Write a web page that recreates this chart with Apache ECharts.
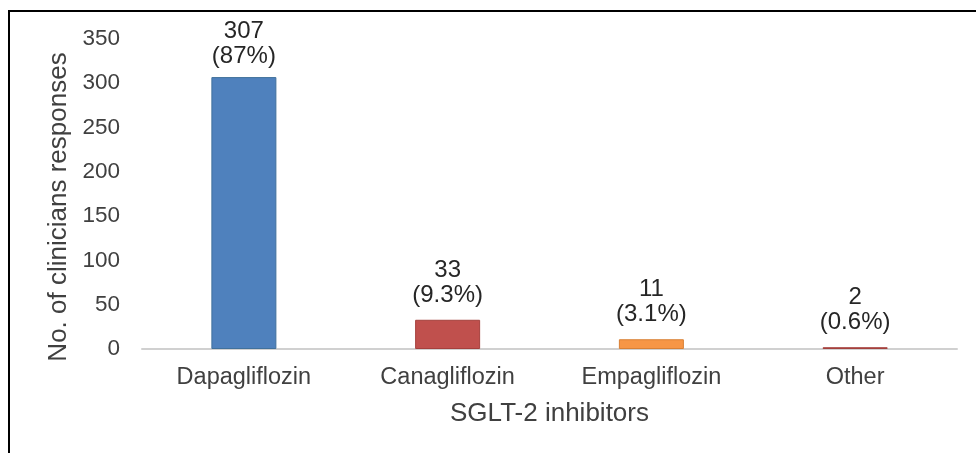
<!DOCTYPE html>
<html>
<head>
<meta charset="utf-8">
<script src="https://cdn.jsdelivr.net/npm/echarts@6/dist/echarts.min.js"></script>
<style>
html,body{margin:0;padding:0;background:#fff;}
#chart{width:976px;height:453px;}
</style>
</head>
<body>
<div id="chart"></div>
<script>
var categories = ['Dapagliflozin', 'Canagliflozin', 'Empagliflozin', 'Other'];
var counts = [307, 33, 11, 2];
var percents = ['87%', '9.3%', '3.1%', '0.6%'];
var barColors = ['#4F81BD', '#C0504D', '#F79646', '#C0504D'];
var barBorders = ['#41719C', '#A5403D', '#D98035', '#A5403D'];
var yTicks = [0, 50, 100, 150, 200, 250, 300, 350];

var chart = echarts.init(document.getElementById('chart'), null, {renderer: 'canvas'});
var font = '"Liberation Sans", Arial, sans-serif';
chart.setOption({
  animation: false,
  textStyle: {fontFamily: font},
  graphic: [
    {type: 'line', shape: {x1: 8, y1: 11, x2: 976, y2: 11}, style: {stroke: '#000', lineWidth: 2}},
    {type: 'line', shape: {x1: 9, y1: 10, x2: 9, y2: 453}, style: {stroke: '#000', lineWidth: 2}}
  ],
  grid: {left: 142, right: 19, top: 39, bottom: 104},
  xAxis: {
    type: 'category',
    data: categories,
    name: 'SGLT-2 inhibitors',
    nameLocation: 'middle',
    nameGap: 52,
    nameTextStyle: {fontSize: 26, color: '#404040', fontFamily: font},
    axisLine: {lineStyle: {color: '#D0D0D0', width: 2}},
    axisTick: {show: false},
    axisLabel: {fontSize: 23.5, color: '#404040', margin: 17, fontFamily: font}
  },
  yAxis: {
    type: 'value',
    min: yTicks[0],
    max: yTicks[yTicks.length - 1],
    interval: 50,
    name: 'No. of clinicians responses',
    nameLocation: 'middle',
    nameGap: 70,
    nameTextStyle: {fontSize: 26, color: '#404040', fontFamily: font, padding: [0, 26, 0, 0]},
    axisLine: {show: false},
    axisTick: {show: false},
    splitLine: {show: false},
    axisLabel: {fontSize: 22.5, color: '#404040', margin: 22, fontFamily: font}
  },
  series: [{
    type: 'bar',
    barWidth: 65,
    data: counts.map(function (v, i) {
      return {
        value: v,
        itemStyle: {color: barColors[i], borderColor: barBorders[i], borderWidth: 1},
        label: {distance: i === 0 ? 8 : 12}
      };
    }),
    label: {
      show: true,
      position: 'top',
      fontSize: 24,
      lineHeight: 25,
      color: '#262626',
      fontFamily: font,
      formatter: function (p) { return p.value + '\n(' + percents[p.dataIndex] + ')'; }
    }
  }]
});
</script>
</body>
</html>
